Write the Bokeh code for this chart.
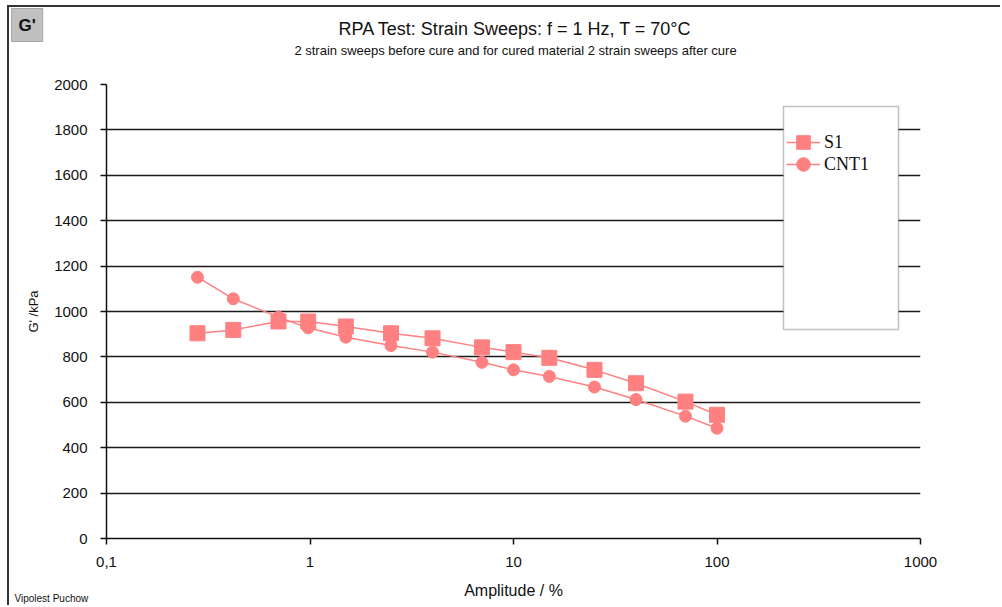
from bokeh.plotting import figure
from bokeh.models import (Range1d, FixedTicker, Legend, LegendItem, Label,
                          BoxAnnotation, ColumnDataSource)
from bokeh.embed import file_html
from bokeh.resources import INLINE

# ---------------- data ----------------
amplitude = [0.28, 0.42, 0.70, 0.98, 1.5, 2.5, 4.0, 7.0, 10.0, 15.0, 25.0, 40.0, 70.0, 100.0]
s1_values = [904, 919, 956, 956, 934, 904, 882, 842, 821, 796, 743, 684, 603, 545]
cnt1_values = [1151, 1056, 975, 928, 887, 850, 821, 776, 743, 714, 667, 612, 539, 486]

x_ticks = [0.1, 1, 10, 100, 1000]
x_tick_labels = ["0,1", "1", "10", "100", "1000"]
y_ticks = [0, 200, 400, 600, 800, 1000, 1200, 1400, 1600, 1800, 2000]

title_text = "RPA Test: Strain Sweeps: f = 1 Hz, T = 70°C"
subtitle_text = "2 strain sweeps before cure and for cured material 2 strain sweeps after cure"
series_names = ["S1", "CNT1"]

COLOR = "#FF8080"
SANS = "Liberation Sans"
TXT = "#111111"

# page offsets (outer frame drawn with CSS borders)
OX, OY = 9, 7
FL, FR, FT, FB = 106, 920, 84, 538  # frame edges in page pixels

p = figure(width=1002 - OX, height=607 - OY, output_backend="svg", toolbar_location=None,
           x_axis_type="log", x_range=Range1d(0.1, 1000), y_range=Range1d(0, 2000),
           min_border_left=FL - OX, min_border_right=1002 - FR, min_border_top=FT - OY,
           min_border_bottom=607 - FB, title=None)
p.styles = {"margin-left": "7px", "margin-top": "5px",
            "border-left": "2px solid #333333", "border-top": "2px solid #333333"}
p.outline_line_color = None
p.background_fill_color = "white"
p.border_fill_color = "white"

# axes
p.xaxis.ticker = FixedTicker(ticks=x_ticks, minor_ticks=[])
p.xaxis.major_label_overrides = dict(zip(x_ticks, x_tick_labels))
p.yaxis.ticker = FixedTicker(ticks=y_ticks, minor_ticks=[])
for ax in (p.xaxis[0], p.yaxis[0]):
    ax.axis_line_color = TXT
    ax.axis_line_width = 1.5
    ax.major_tick_line_color = TXT
    ax.major_tick_line_width = 1.5
    ax.major_tick_out = 6
    ax.major_tick_in = 0
    ax.minor_tick_out = 0
    ax.minor_tick_in = 0
    ax.major_label_text_font = SANS
    ax.major_label_text_font_size = "15px"
    ax.major_label_text_color = TXT
    ax.axis_label_text_font = SANS
    ax.axis_label_text_font_style = "normal"
    ax.axis_label_text_color = TXT
p.xaxis.major_label_standoff = 12
p.yaxis.major_label_standoff = 13
p.xaxis.axis_label = "Amplitude / %"
p.xaxis.axis_label_text_font_size = "16px"
p.xaxis.axis_label_standoff = 12
p.yaxis.axis_label = "G' /kPa"
p.yaxis.axis_label_text_font_size = "13px"
p.yaxis.axis_label_standoff = 10

p.xgrid.grid_line_color = None
p.ygrid.ticker = FixedTicker(ticks=y_ticks)
p.ygrid.grid_line_color = "#1a1a1a"
p.ygrid.grid_line_width = 1.6

# legend background box
p.add_layout(BoxAnnotation(left=781 - OX, right=896 - OX, top=104 - OY, bottom=327 - OY,
                           left_units="canvas", right_units="canvas",
                           top_units="canvas", bottom_units="canvas",
                           fill_color="white", fill_alpha=1.0,
                           line_color="#333333", line_width=1.5, level="annotation"))

src_s1 = ColumnDataSource(dict(x=amplitude, y=s1_values))
src_c1 = ColumnDataSource(dict(x=amplitude, y=cnt1_values))

l1 = p.line("x", "y", source=src_s1, line_color=COLOR, line_width=1.5)
m1 = p.scatter("x", "y", source=src_s1, marker="square", size=15,
               fill_color=COLOR, line_color=COLOR)
l2 = p.line("x", "y", source=src_c1, line_color=COLOR, line_width=1.5)
m2 = p.scatter("x", "y", source=src_c1, marker="circle", size=12,
               fill_color=COLOR, line_color=COLOR)

legend_style = dict(padding=0, margin=0, spacing=0, glyph_width=34, glyph_height=36,
                    label_height=36, label_standoff=4, background_fill_alpha=0,
                    border_line_color=None, label_text_font="Liberation Serif",
                    label_text_font_size="18px", label_text_color=TXT)
p.add_layout(Legend(items=[LegendItem(label=series_names[0], renderers=[l1, m1])],
                    location=(680, 378), **legend_style))
p.add_layout(Legend(items=[LegendItem(label=series_names[1], renderers=[l2, m2])],
                    location=(680, 356), **legend_style))


def canvas_label(text, x, y, size, panel, align="left", baseline="middle", **kw):
    p.add_layout(Label(x=x - OX, y=y - OY, x_units="canvas", y_units="canvas",
                       text=text, text_font=SANS, text_font_size=size,
                       text_color=TXT, text_align=align, text_baseline=baseline, **kw),
                 panel)


# texts outside the plot frame (page pixel positions)
canvas_label("G'", 9, 6, "17px", "above", baseline="top", text_font_style="bold",
             padding=7, background_fill_color="#C0C0C0", border_line_color="#A8A8A8")
canvas_label(title_text, 513, 26, "18px", "above", align="center")
canvas_label(subtitle_text, 513, 48, "13px", "above", align="center")
canvas_label("Vipolest Puchow", 12, 596, "10px", "right")

open("out.html", "w").write(file_html(p, INLINE))
